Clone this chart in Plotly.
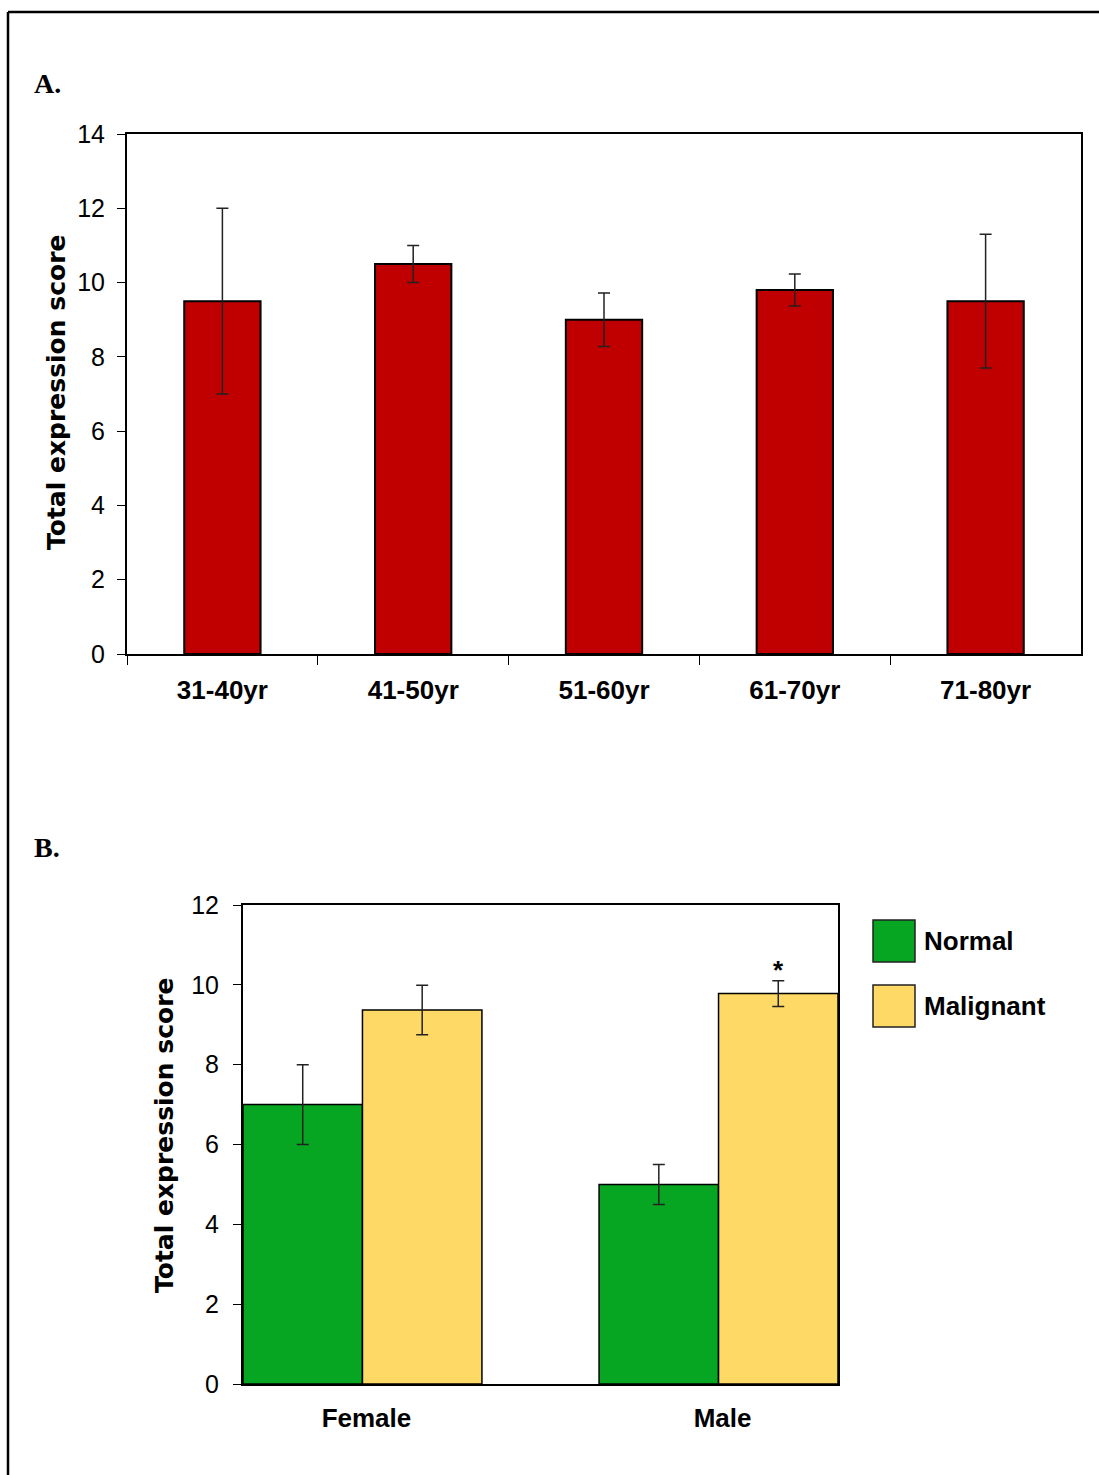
import plotly.graph_objects as go

# ---- Panel A: expression score by age group ----
age_groups = ["31-40yr", "41-50yr", "51-60yr", "61-70yr", "71-80yr"]
age_mean = [9.5, 10.5, 9.0, 9.8, 9.5]
age_err = [2.5, 0.5, 0.72, 0.43, 1.8]

# ---- Panel B: expression score by sex and tissue type ----
sexes = ["Female", "Male"]
normal_mean = [7.0, 5.0]
normal_err = [1.0, 0.5]
malignant_mean = [9.37, 9.78]
malignant_err = [0.62, 0.32]

W, H = 1099, 1475


def fx(px):
    return px / W


def fy(py):
    return 1 - py / H


SANS = "Liberation Sans, Arial, sans-serif"
SERIF = "Liberation Serif, Times New Roman, serif"

RED = "#C00000"
GREEN = "#06A622"
YELLOW = "#FFD966"

fig = go.Figure()

fig.add_trace(go.Bar(
    x=age_groups, y=age_mean, width=0.4,
    marker=dict(color=RED, line=dict(color="black", width=2)),
    error_y=dict(type="data", array=age_err, color="#222222", thickness=1.5, width=6),
    xaxis="x", yaxis="y", showlegend=False,
))

# Panel B bars side by side within each sex group
pos = list(range(len(sexes)))
bw = 0.3355
fig.add_trace(go.Bar(
    x=pos, y=normal_mean, width=bw, offset=-bw, name="Normal",
    marker=dict(color=GREEN, line=dict(color="black", width=1.5)),
    error_y=dict(type="data", array=normal_err, color="#222222", thickness=1.5, width=6),
    xaxis="x2", yaxis="y2", showlegend=False,
))
fig.add_trace(go.Bar(
    x=pos, y=malignant_mean, width=bw, offset=0, name="Malignant",
    marker=dict(color=YELLOW, line=dict(color="black", width=1.5)),
    error_y=dict(type="data", array=malignant_err, color="#222222", thickness=1.5, width=6),
    xaxis="x2", yaxis="y2", showlegend=False,
))

tickfont = dict(family=SANS, size=25, color="black")
catfont = dict(family=SANS, size=26, color="black", weight="bold")

fig.update_layout(
    width=W, height=H,
    margin=dict(l=0, r=0, t=0, b=0, autoexpand=False),
    paper_bgcolor="white", plot_bgcolor="rgba(0,0,0,0)",
    barmode="overlay",
    xaxis=dict(
        domain=[fx(127), fx(1081)], anchor="y", automargin=False,
        type="category", range=[-0.5, 4.5],
        showline=True, linecolor="black", linewidth=2, mirror=True,
        ticks="outside", tickson="boundaries", ticklen=9, tickwidth=1, tickcolor="black",
        tickfont=catfont, ticklabelstandoff=12, showgrid=False, zeroline=False,
    ),
    yaxis=dict(
        domain=[fy(654), fy(134)], anchor="x", automargin=False,
        range=[0, 14], dtick=2,
        showline=True, linecolor="black", linewidth=2, mirror=True,
        ticks="outside", ticklen=8, tickwidth=1, tickcolor="black",
        tickfont=tickfont, ticklabelstandoff=7, showgrid=False, zeroline=False,
    ),
    xaxis2=dict(
        domain=[fx(243), fx(838)], anchor="y2", automargin=False,
        range=[-bw, len(sexes) - 1 + bw],
        tickvals=pos, ticktext=sexes, ticklabelshift=4,
        showline=True, linecolor="black", linewidth=2, mirror=True,
        ticks="", tickfont=catfont, ticklabelstandoff=10,
        showgrid=False, zeroline=False,
    ),
    yaxis2=dict(
        domain=[fy(1384), fy(905)], anchor="x2", automargin=False,
        range=[0, 12], dtick=2,
        showline=True, linecolor="black", linewidth=2, mirror=True,
        ticks="outside", ticklen=8, tickwidth=1, tickcolor="black",
        tickfont=tickfont, ticklabelstandoff=9, showgrid=False, zeroline=False,
    ),
)

title_font = dict(family="DejaVu Sans, sans-serif", size=25, color="black", weight="bold")
annotations = [
    dict(text="A.", x=fx(32), y=fy(83), xanchor="left", yanchor="middle",
         font=dict(family=SERIF, size=28, color="black", weight="bold")),
    dict(text="B.", x=fx(32), y=fy(847), xanchor="left", yanchor="middle",
         font=dict(family=SERIF, size=28, color="black", weight="bold")),
    dict(text="Total expression score", x=fx(56), y=fy(393), textangle=-90,
         xanchor="center", yanchor="middle", font=title_font),
    dict(text="Total expression score", x=fx(164), y=fy(1136), textangle=-90,
         xanchor="center", yanchor="middle", font=title_font),
    # significance marker above male malignant bar
    dict(text="*", xref="x2", yref="y2",
         x=pos[1] + bw / 2, y=malignant_mean[1] + malignant_err[1],
         xanchor="center", yanchor="bottom", yshift=-6,
         font=dict(family=SANS, size=26, color="black", weight="bold")),
]
for a in annotations:
    a.setdefault("xref", "paper")
    a.setdefault("yref", "paper")
    a["showarrow"] = False

# Legend for panel B drawn as swatches with labels
legend_items = [("Normal", GREEN, 920), ("Malignant", YELLOW, 985)]
shapes = [
    # page frame (left and top edges)
    dict(type="line", xref="paper", yref="paper", x0=fx(8), x1=fx(8), y0=fy(12), y1=0,
         line=dict(color="black", width=2.5)),
    dict(type="line", xref="paper", yref="paper", x0=fx(8), x1=1, y0=fy(12), y1=fy(12),
         line=dict(color="black", width=2.5)),
]
for label, color, top in legend_items:
    shapes.append(dict(type="rect", xref="paper", yref="paper",
                       x0=fx(873), x1=fx(915), y0=fy(top + 42), y1=fy(top),
                       fillcolor=color, line=dict(color="#222222", width=1.5)))
    annotations.append(dict(text=label, xref="paper", yref="paper", showarrow=False,
                            x=fx(922), y=fy(top + 21), xanchor="left", yanchor="middle",
                            font=dict(family=SANS, size=26, color="black", weight="bold")))

fig.update_layout(annotations=annotations, shapes=shapes)

fig.write_html("out.html")
